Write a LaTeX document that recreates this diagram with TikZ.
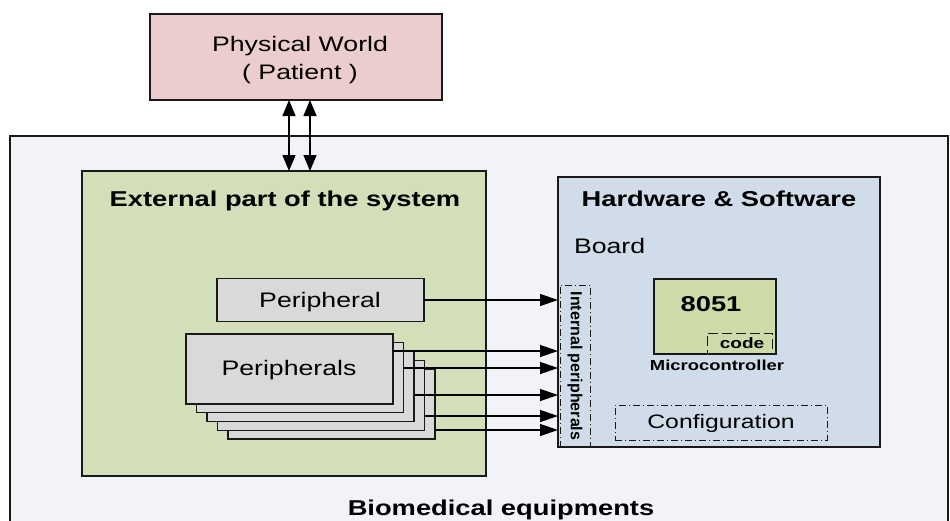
\documentclass[tikz,border=0pt]{standalone}
\usepackage{fontspec}
\setmainfont[FakeStretch=1.27]{Liberation Sans}
\newfontfamily\ipfont{Liberation Sans}
\usetikzlibrary{arrows.meta,calc}
\definecolor{bgc}{RGB}{242,243,248}
\definecolor{pinkc}{RGB}{235,205,205}
\definecolor{greenc}{RGB}{211,223,184}
\definecolor{bluec}{RGB}{208,220,233}
\definecolor{mcc}{RGB}{204,219,167}
\definecolor{grayc}{RGB}{217,217,217}
\definecolor{linec}{RGB}{25,25,25}
\tikzset{
  boxs/.style={draw=linec, line width=1.3pt, inner sep=0pt, outer sep=0pt, rectangle},
  ddot/.style={draw=linec, line width=1pt, dash pattern=on 7pt off 3pt on 1pt off 3pt, inner sep=0pt, outer sep=0pt, rectangle},
  dsh/.style={draw=linec, line width=1pt, dash pattern=on 10pt off 4pt, inner sep=0pt, outer sep=0pt, rectangle},
  harr/.style={draw=black, line width=1.3pt, -{Triangle[length=18pt,width=12pt]}},
  varr/.style={draw=black, line width=1.3pt, {Triangle[length=16pt,width=13pt]}-{Triangle[length=16pt,width=13pt]}},
  txt/.style={inner sep=0pt, outer sep=0pt, text=black},
}
\newcommand{\fs}[1]{\fontsize{#1}{#1}\selectfont}
\begin{document}
\begin{tikzpicture}[x=1pt,y=-1pt]
\useasboundingbox (0,0) rectangle (950,520);
\clip (0,0) rectangle (950,520);
\fill[white] (0,0) rectangle (950,520);
% containers
\node[boxs, fill=bgc, minimum width=938pt, minimum height=404pt] (outer) at (479,338) {};
\node[boxs, fill=pinkc, minimum width=292pt, minimum height=86pt] (pw) at (296,57) {};
\node[boxs, fill=greenc, minimum width=404pt, minimum height=305pt] (ext) at (284,323.5) {};
\node[boxs, fill=bluec, minimum width=322pt, minimum height=270pt] (hw) at (719,312) {};
\node[ddot, minimum width=30pt, minimum height=162pt] (ip) at (575,366) {};
\node[boxs, fill=mcc, minimum width=122pt, minimum height=75pt] (mc) at (715,316.5) {};
\node[dsh, minimum width=65pt, minimum height=21pt] (code) at (739.5,343.5) {};
\node[ddot, minimum width=212pt, minimum height=35pt] (cfg) at (721,422.5) {};
\node[boxs, fill=grayc, minimum width=207pt, minimum height=43pt] (p1) at (320.5,300) {};
% stack of peripherals (back to front)
\node[boxs, fill=grayc, minimum width=207pt, minimum height=70pt] (s4) at (331.5,404) {};
\node[boxs, fill=grayc, minimum width=207pt, minimum height=70pt] (s3) at (321,395.25) {};
\node[boxs, fill=grayc, minimum width=207pt, minimum height=70pt] (s2) at (310.5,386.5) {};
\node[boxs, fill=grayc, minimum width=207pt, minimum height=70pt] (s1) at (300,377.75) {};
\node[boxs, fill=grayc, minimum width=207pt, minimum height=70pt] (s0) at (289.5,369) {};
% connectors
\draw[varr] ([xshift=-7pt]pw.south) -- ([xshift=-7pt]pw.south |- ext.north);
\draw[varr] ([xshift=14pt]pw.south) -- ([xshift=14pt]pw.south |- ext.north);
\draw[harr] (p1.east) -- (p1.east -| hw.west);
\coordinate (a1) at ($(s0.east)+(0,-18)$);
\coordinate (a2) at ($(s1.east)+(0,-9.75)$);
\coordinate (a3) at ($(s2.east)+(0,8.5)$);
\coordinate (a4) at ($(s3.east)+(0,20.75)$);
\coordinate (a5) at ($(s4.east)+(0,26)$);
\foreach \a in {a1,a2,a3,a4,a5} {\draw[harr] (\a) -- (\a -| hw.west);}
% texts
\node[txt, align=center, font={\fontsize{21}{28}\selectfont}] (tpw) at (300,60) {Physical World\\( Patient )};
\node[txt, anchor=base] (text) at (285,206) {\fs{21.5}\bfseries External part of the system};
\node[txt, anchor=base] (thw) at (719,206) {\fs{21.5}\bfseries Hardware \& Software};
\node[txt, anchor=base west] (tboard) at (574,253) {\fs{21}Board};
\node[txt, anchor=base] (tp1) at (320,307) {\fs{21}Peripheral};
\node[txt, anchor=base] (ts0) at (289,375) {\fs{21}Peripherals};
\node[txt, anchor=base] (t8051) at (711,311) {\fs{21.5}\bfseries 8051};
\node[txt, anchor=base] (tcode) at (742,348) {\fs{15}\bfseries code};
\node[txt, anchor=base] (tmc) at (717,370) {\fs{14.5}\bfseries Microcontroller};
\node[txt, anchor=base] (tcfg) at (721,428) {\fs{19.5}Configuration};
\node[txt, rotate=-90] (tip) at (575,366) {\ipfont\fs{16}\bfseries Internal peripherals};
\node[txt, anchor=base] (tbio) at (501,515) {\fs{21.5}\bfseries Biomedical equipments};
\end{tikzpicture}
\end{document}
